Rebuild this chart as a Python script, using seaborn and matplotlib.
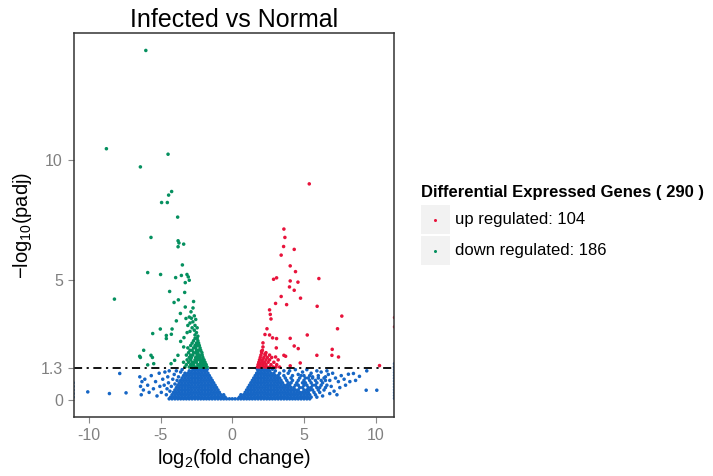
import matplotlib
matplotlib.use("Agg")
import matplotlib.pyplot as plt
from matplotlib.patches import Rectangle
from matplotlib.lines import Line2D
import pandas as pd
import seaborn as sns

# ---- data (log2 fold change, -log10 padj) ----
# dense "not significant" cloud, one row of x values per -log10(padj) level
blue_row_y = [0.03, 0.1, 0.2, 0.3, 0.4, 0.5, 0.6, 0.7, 0.8, 0.9, 1.0, 1.1, 1.2, 1.27]
blue_row_x = [
    [-4.4, -4.2, -4.0, -3.8, -3.6, -3.4, -3.2, -3.0, -2.8, -2.6, -2.4, -2.2, -2.0, -1.8, -1.6, -1.4, -1.2, -1.0,
     -0.8, -0.6, -0.4, -0.2, 0.0, 0.2, 0.4, 0.6, 0.8, 1.0, 1.2, 1.4, 1.6, 1.8, 2.0, 2.2, 2.4, 2.6, 2.8, 3.0,
     3.2, 3.4, 3.6, 3.8, 4.0, 4.2, 4.4, 4.6, 4.8, 5.0, 5.2, 5.4],
    [-4.3, -4.1, -3.9, -3.7, -3.5, -3.3, -3.1, -2.9, -2.7, -2.5, -2.3, -2.1, -1.9, -1.7, -1.5, -1.3, -1.1, -0.9,
     -0.7, -0.5, 0.5, 0.7, 0.9, 1.1, 1.3, 1.5, 1.7, 1.9, 2.1, 2.3, 2.5, 2.7, 2.9, 3.1, 3.3, 3.5, 3.7, 3.9, 4.1,
     4.3, 4.5, 4.7, 4.9, 5.1, 5.3, 5.5],
    [-4.2, -4.0, -3.8, -3.6, -3.4, -3.2, -3.0, -2.8, -2.6, -2.4, -2.2, -2.0, -1.8, -1.6, -1.4, -1.2, -1.0, -0.8,
     -0.6, 0.6, 0.8, 1.0, 1.2, 1.4, 1.6, 1.8, 2.0, 2.2, 2.4, 2.6, 2.8, 3.0, 3.2, 3.4, 3.6, 3.8, 4.0, 4.2, 4.4,
     4.6, 4.8, 5.0, 5.2, 5.4, 5.8],
    [-4.1, -3.9, -3.7, -3.5, -3.3, -3.1, -2.9, -2.7, -2.5, -2.3, -2.1, -1.9, -1.7, -1.5, -1.3, -1.1, -0.9,
     0.9, 1.1, 1.3, 1.5, 1.7, 1.9, 2.1, 2.3, 2.5, 2.7, 2.9, 3.1, 3.3, 3.5, 3.7, 3.9, 4.1, 4.3, 4.5, 4.7, 4.9,
     5.1, 5.3, 5.7, 6.1],
    [-4.0, -3.8, -3.6, -3.4, -3.2, -3.0, -2.8, -2.6, -2.4, -2.2, -2.0, -1.8, -1.6, -1.4, -1.2, -1.0,
     1.0, 1.2, 1.4, 1.6, 1.8, 2.0, 2.2, 2.4, 2.6, 2.8, 3.0, 3.2, 3.4, 3.6, 3.8, 4.0, 4.2, 4.4, 4.6, 5.0, 5.2,
     5.4, 5.6, 6.0, 6.4],
    [-3.9, -3.7, -3.5, -3.3, -3.1, -2.9, -2.7, -2.5, -2.3, -2.1, -1.9, -1.7, -1.5, -1.3, -1.1,
     1.1, 1.3, 1.5, 1.7, 1.9, 2.1, 2.3, 2.5, 2.7, 2.9, 3.1, 3.3, 3.5, 3.7, 3.9, 4.1, 4.3, 4.7, 4.9, 5.3, 5.5,
     5.9, 6.1, 6.5],
    [-3.8, -3.6, -3.4, -3.2, -3.0, -2.8, -2.6, -2.4, -2.2, -2.0, -1.8, -1.6, -1.4, -1.2,
     1.2, 1.4, 1.6, 1.8, 2.0, 2.2, 2.4, 2.6, 2.8, 3.0, 3.2, 3.4, 3.6, 3.8, 4.0, 4.4, 4.6, 5.0, 5.2, 5.6, 5.8,
     6.2, 6.6],
    [-3.7, -3.5, -3.3, -3.1, -2.9, -2.7, -2.5, -2.3, -2.1, -1.9, -1.7, -1.5, -1.3,
     1.3, 1.5, 1.7, 1.9, 2.1, 2.3, 2.5, 2.7, 2.9, 3.1, 3.3, 3.5, 3.9, 4.1, 4.5, 4.9, 5.1, 5.5, 5.9, 6.3],
    [-3.6, -3.4, -3.2, -3.0, -2.8, -2.6, -2.4, -2.2, -2.0, -1.8, -1.6, -1.4,
     1.4, 1.6, 1.8, 2.0, 2.2, 2.4, 2.6, 2.8, 3.0, 3.2, 3.4, 3.8, 4.2, 4.6, 5.0, 5.4, 5.8, 6.2, 6.5],
    [-3.5, -3.3, -3.1, -2.9, -2.7, -2.5, -2.3, -2.1, -1.9, -1.7, -1.5,
     1.5, 1.7, 1.9, 2.1, 2.3, 2.5, 2.7, 2.9, 3.1, 3.3, 3.7, 4.1, 4.7, 5.1, 5.6, 6.0, 6.4],
    [-3.4, -3.2, -3.0, -2.8, -2.6, -2.4, -2.2, -2.0, -1.8, -1.6,
     1.6, 1.8, 2.0, 2.2, 2.4, 2.6, 2.8, 3.0, 3.2, 3.6, 4.2, 4.8, 5.4],
    [-3.3, -3.1, -2.9, -2.7, -2.5, -2.3, -2.1, -1.9, -1.7,
     1.7, 1.9, 2.1, 2.3, 2.5, 2.7, 2.9, 3.3, 3.9],
    [-3.0, -2.8, -2.6, -2.4, -2.2, -2.0, -1.8,
     1.8, 2.0, 2.2, 2.4, 2.6, 3.0, 3.6],
    [-2.7, -2.5, -2.3, -2.1, -1.9, -1.75,
     1.75, 1.9, 2.1, 2.3, 2.5, 2.8],
]

# scattered not-significant genes outside the dense cloud
blue_x = [-10.08, -8.57, -7.41, -7.85, -6.45, -6.3, -6.4, -6.2, -6.35, -6.1, -5.9, -5.8, -5.65, -5.5,
          -5.35, -5.25, -5.1, -5.05, -4.95, -4.85, -4.75, -4.7, -4.6, -4.55, -4.5, -4.45, -4.4, -4.35,
          -4.25, -4.15, -4.05, -3.9, -3.75, -3.6, -3.5, -4.0, -3.85,
          -11.1, -11.1, -11.1, -11.1, -11.1,
          9.38, 9.34, 10.08, 8.87, 8.45, 8.1, 7.8, 7.6, 7.4, 7.2, 7.0, 6.9, 7.1, 7.5, 7.9, 8.2, 8.6, 6.8,
          6.7, 6.6, 6.2, 5.9, 5.5, 5.2, 4.9, 4.6, 4.4, 4.0, 6.5, 6.0, 5.6, 5.3, 5.0, 6.3, 5.9, 6.8, 7.3,
          11.32, 11.32, 11.32, 11.32, 11.32, 11.32, 11.32, 11.32, 11.32, 11.32, 11.32, 11.32, 11.32]
blue_y = [0.32, 0.25, 0.28, 1.09, 0.95, 0.75, 0.55, 0.4, 0.2, 0.85, 0.6, 0.3, 1.0, 0.45,
          0.75, 0.15, 1.1, 0.55, 0.3, 0.85, 0.6, 1.15, 0.2, 0.45, 0.95, 0.7, 1.2, 0.35,
          0.55, 0.85, 1.05, 1.2, 0.95, 1.15, 1.25, 0.65, 0.8,
          0.1, 0.25, 0.4, 0.55, 0.7,
          1.2, 0.39, 0.39, 0.97, 1.09, 1.06, 0.85, 1.0, 0.75, 0.9, 1.1, 0.55, 0.35, 0.5, 0.6, 0.75, 0.8, 0.8,
          1.05, 1.2, 1.15, 1.2, 1.1, 1.25, 1.15, 1.05, 1.25, 1.2, 0.95, 1.0, 0.95, 0.9, 1.0, 0.15, 0.1, 0.25, 0.2,
          0.05, 0.17, 0.29, 0.41, 0.53, 0.65, 0.77, 0.89, 1.01, 1.13, 1.25, 1.37, 1.5]

# down regulated (186)
down_x = [-6.03, -8.78, -4.48, -6.41, -4.23, -4.44, -4.93, -4.53, -3.81, -5.67, -3.78, -3.72, -3.39, -3.78,
          -3.48, -5.90, -5.00, -3.95, -3.55, -3.16, -3.07, -3.00, -3.28, -4.37, -3.32, -8.22, -3.76, -4.06,
          -2.70, -3.28, -2.74, -3.62, -2.88, -3.23, -3.90, -5.02, -4.2, -5.55, -4.6, -4.25, -4.6, -3.37,
          -3.6, -3.39, -6.18, -5.67, -5.57, -6.41, -3.79, -4.02, -4.27, -5.9, -5.48, -6.46,
          -3.0, -2.85, -2.65, -2.55, -2.75, -2.95, -3.1, -2.6, -2.45, -2.8, -2.65, -2.5, -2.95, -2.4, -2.6, -3.15,
          -3.3, -3.0, -2.8, -2.6, -2.45, -2.3, -2.15, -2.0, -1.85, -1.76,
          -3.2, -2.9, -2.7, -2.4, -2.25, -2.1, -1.95, -1.82,
          -3.4, -3.05, -2.8, -2.65, -2.5, -2.2, -2.05, -1.9,
          -3.15, -2.9, -2.6, -2.45, -2.3, -2.15, -1.97,
          -3.0, -2.85, -2.55, -2.4, -2.25, -2.05,
          -3.2, -2.9, -2.75, -2.45, -2.3, -2.1,
          -3.05, -2.7, -2.55, -2.4, -2.12,
          -2.95, -2.8, -2.5, -2.35, -2.2,
          -3.1, -2.7, -2.55, -2.25,
          -2.9, -2.6, -2.45, -2.3,
          -2.8, -2.5, -2.35,
          -2.7, -2.4,
          -2.6, -2.45]
down_y = [14.6, 10.49, 10.26, 9.73, 8.70, 8.55, 8.24, 8.24, 7.63, 6.78, 6.64, 6.55, 6.50, 6.39,
          5.63, 5.31, 5.23, 5.10, 5.19, 5.23, 5.13, 4.99, 4.89, 4.52, 4.48, 4.2, 4.17, 4.06,
          4.10, 3.87, 3.83, 3.60, 3.67, 3.39, 3.29, 2.95, 2.95, 2.76, 2.68, 2.73, 2.55, 2.59,
          2.43, 2.2, 2.06, 1.85, 1.76, 1.76, 1.85, 1.64, 1.5, 1.45, 1.5, 1.81,
          3.45, 3.4, 3.5, 3.35, 3.25, 3.2, 3.1, 3.1, 3.0, 3.0, 2.9, 2.8, 2.85, 2.65, 2.7, 2.8,
          1.36, 1.36, 1.36, 1.36, 1.36, 1.36, 1.36, 1.36, 1.36, 1.36,
          1.46, 1.46, 1.46, 1.46, 1.46, 1.46, 1.46, 1.46,
          1.56, 1.56, 1.56, 1.56, 1.56, 1.56, 1.56, 1.56,
          1.66, 1.66, 1.66, 1.66, 1.66, 1.66, 1.66,
          1.76, 1.76, 1.76, 1.76, 1.76, 1.76,
          1.86, 1.86, 1.86, 1.86, 1.86, 1.86,
          1.96, 1.96, 1.96, 1.96, 1.96,
          2.06, 2.06, 2.06, 2.06, 2.06,
          2.16, 2.16, 2.16, 2.16,
          2.26, 2.26, 2.26, 2.26,
          2.36, 2.36, 2.36,
          2.46, 2.46,
          2.56, 2.56]

# up regulated (104)
up_x = [5.37, 3.60, 3.67, 3.58, 3.41, 4.32, 4.04, 4.41, 2.88, 3.09, 4.04, 4.58, 6.04, 3.99, 4.32, 4.76,
        3.41, 3.02, 3.79, 5.92, 2.60, 2.65, 2.70, 7.64, 2.42, 2.28, 2.60, 2.81, 3.09, 4.04, 5.23, 7.34,
        2.14, 2.14, 4.32, 4.6, 3.07, 6.97, 2.04, 2.28, 3.6, 3.72, 5.9, 6.95, 7.41, 4.74, 4.04, 10.27, 3.02,
        11.32, 11.32,
        1.76, 1.9, 2.05, 2.25, 2.4, 2.6, 2.85, 3.05, 3.3,
        1.8, 1.95, 2.15, 2.35, 2.7, 3.1,
        1.85, 2.05, 2.25, 2.5, 2.9,
        1.9, 2.1, 2.35, 2.6, 3.2,
        1.95, 2.2, 2.45, 2.75,
        2.0, 2.3, 2.6,
        2.05, 2.35,
        2.1]
up_y = [9.02, 7.13, 6.78, 6.40, 6.04, 6.28, 5.59, 5.35, 5.03, 5.09, 4.96, 4.91, 5.06, 4.71, 4.57, 4.24,
        4.31, 4.02, 3.97, 3.90, 3.75, 3.56, 3.37, 3.49, 2.96, 2.72, 2.70, 2.58, 2.55, 2.56, 2.70, 2.96,
        2.37, 2.2, 2.24, 2.13, 2.16, 2.1, 2.02, 1.9, 1.85, 1.81, 1.85, 1.85, 1.78, 1.53, 1.41, 1.42, 1.78,
        3.43, 3.04,
        1.36, 1.36, 1.36, 1.36, 1.36, 1.36, 1.36, 1.36, 1.36,
        1.46, 1.46, 1.46, 1.46, 1.46, 1.46,
        1.56, 1.56, 1.56, 1.56, 1.56,
        1.66, 1.66, 1.66, 1.66, 1.66,
        1.76, 1.76, 1.76, 1.76,
        1.86, 1.86, 1.86,
        1.96, 1.96,
        2.06]

x_ticks = [-10, -5, 0, 5, 10]
y_ticks = [0, 1.3, 5, 10]
y_tick_labels = ["0", "1.3", "5", "10"]
padj_cut = 1.3
n_up, n_down = 104, 186

colors = {"up": "#E8133B", "down": "#05905F", "normal": "#1666C5"}

# build the table
bx = [x for row in blue_row_x for x in row] + blue_x
by = [y for y, row in zip(blue_row_y, blue_row_x) for _ in row] + blue_y
df = pd.concat([
    pd.DataFrame({"log2fc": bx, "padj": by, "group": "normal"}),
    pd.DataFrame({"log2fc": down_x, "padj": down_y, "group": "down"}),
    pd.DataFrame({"log2fc": up_x, "padj": up_y, "group": "up"}),
], ignore_index=True)

sns.set_theme(style="white")
plt.rcParams["font.family"] = ["Liberation Sans", "DejaVu Sans"]
plt.rcParams["mathtext.fontset"] = "custom"
plt.rcParams["mathtext.rm"] = "Liberation Sans"
plt.rcParams["mathtext.it"] = "Liberation Sans:italic"
plt.rcParams["axes.unicode_minus"] = False

W, H = 713, 476
fig = plt.figure(figsize=(W / 100, H / 100), dpi=100)
ax = fig.add_axes([74 / W, 1 - 417 / H, (394 - 74) / W, (417 - 33) / H])

sns.scatterplot(data=df, x="log2fc", y="padj", hue="group", palette=colors,
                s=6.5, linewidth=0, legend=False, ax=ax)

ax.axhline(padj_cut, color="black", lw=1.3, linestyle=(0, (4.5, 2.5, 1.2, 2.5)))

ax.set_xlim(-11.04, 11.28)
ax.set_ylim(-0.73, 15.33)
ax.set_xticks(x_ticks)
ax.set_xticklabels([str(t) for t in x_ticks])
ax.set_yticks(y_ticks)
ax.set_yticklabels(y_tick_labels)
ax.tick_params(axis="both", which="major", length=4.5, width=0.8, color="#8a8a8a",
               labelcolor="#808080", labelsize=11.5, pad=3.5, bottom=True, left=True)

for sp in ax.spines.values():
    sp.set_color("#333333")
    sp.set_linewidth(1.1)

ax.set_title("Infected vs Normal", fontsize=18, color="black", pad=4.5)
ax.set_xlabel(r"$\mathregular{log_2}$(fold change)", fontsize=14.5, color="black", labelpad=3)
ax.set_ylabel(r"$\mathregular{-log_{10}}$(padj)", fontsize=14.5, color="black", labelpad=5)
ax.grid(False)

# legend drawn by hand, ggplot style with grey key boxes
def fx(px):
    return px / W

def fy(py):
    return 1 - py / H

fig.text(fx(421), fy(196.5), "Differential Expressed Genes ( %d )" % (n_up + n_down),
         fontsize=12, fontweight="bold", color="black", va="baseline", ha="left")
for i, (lab, key) in enumerate([("up regulated: %d" % n_up, "up"),
                                ("down regulated: %d" % n_down, "down")]):
    top = 205 + i * 31
    fig.add_artist(Rectangle((fx(421), fy(top + 28.5)), 28.5 / W, 28.5 / H,
                             transform=fig.transFigure, facecolor="#F2F2F2", edgecolor="none"))
    fig.add_artist(Line2D([fx(435)], [fy(top + 14.5)], transform=fig.transFigure, marker="o",
                          markersize=2.2, markeredgewidth=0, color=colors[key]))
    fig.text(fx(454.5), fy(top + 14.5), lab, fontsize=12, color="black", va="center", ha="left")

fig.savefig("out.png", dpi=100)
